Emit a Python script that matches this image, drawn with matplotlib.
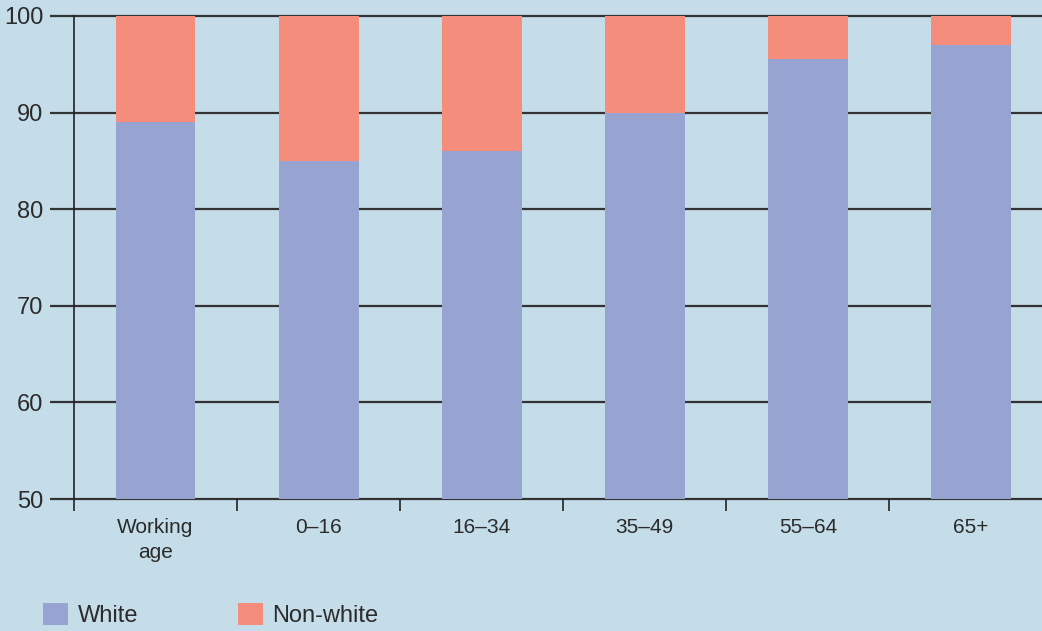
import numpy as np
import matplotlib
matplotlib.use("Agg")
import matplotlib.pyplot as plt
from matplotlib.patches import Patch

# Données
categories = ["Working\nage", "0\u201316", "16\u201334", "35\u201349", "55\u201364", "65+"]
white = [89, 85, 86, 90, 95.5, 97]
non_white = [100 - v for v in white]
y_ticks = [50, 60, 70, 80, 90, 100]

BG = "#c5dce9"
C_WHITE = "#97a4d1"
C_NONWHITE = "#f48d7b"
TXT = "#2b2b2b"

plt.rcParams['font.family'] = ['Liberation Sans', 'DejaVu Sans']

fig = plt.figure(figsize=(10.42, 6.31), dpi=100, facecolor=BG)
ax = fig.add_axes([74 / 1042, 132 / 631, 968 / 1042, 483 / 631])
ax.set_facecolor(BG)

x = np.arange(len(categories))
base = 50
ax.bar(x, np.array(white) - base, bottom=base, width=0.49, color=C_WHITE, zorder=3)
ax.bar(x, non_white, bottom=white, width=0.49, color=C_NONWHITE, zorder=3)

ax.set_ylim(50, 100)
ax.set_xlim(-0.5, 5.436)

# Quadrillage horizontal
for v in y_ticks:
    ax.axhline(v, color="#333333", lw=1.6, zorder=1, clip_on=False)

for s in ["top", "right", "bottom"]:
    ax.spines[s].set_visible(False)
ax.spines["left"].set_color("#222222")
ax.spines["left"].set_linewidth(1.2)

ax.set_yticks(y_ticks)
ax.set_yticklabels([str(v) for v in y_ticks])
ax.tick_params(axis="y", length=17, width=1.6, color="#333333", pad=5,
               labelsize=17, labelcolor=TXT)

# Graduations entre les catégories, libellés centrés
ax.set_xticks(np.arange(-0.5, len(categories) - 0.5, 1.0))
ax.set_xticklabels([])
ax.set_xticks(x, minor=True)
ax.set_xticklabels(categories, minor=True, fontsize=15, color=TXT,
                   linespacing=1.4)
ax.tick_params(axis="x", which="major", length=8.6, width=1.2, color="#222222")
ax.tick_params(axis="x", which="minor", length=0, pad=14)

# Légende
handles = [Patch(facecolor=C_WHITE, label="White"),
           Patch(facecolor=C_NONWHITE, label="Non-white")]
fig.legend(handles=handles, loc="lower left", bbox_to_anchor=(43 / 1042, 4 / 631),
           ncol=2, frameon=False, fontsize=17, handlelength=1.06, handleheight=1.06,
           handletextpad=0.42, columnspacing=4.2, borderpad=0, borderaxespad=0,
           labelcolor=TXT)

fig.savefig("out.png", dpi=100, facecolor=BG)
plt.close(fig)
